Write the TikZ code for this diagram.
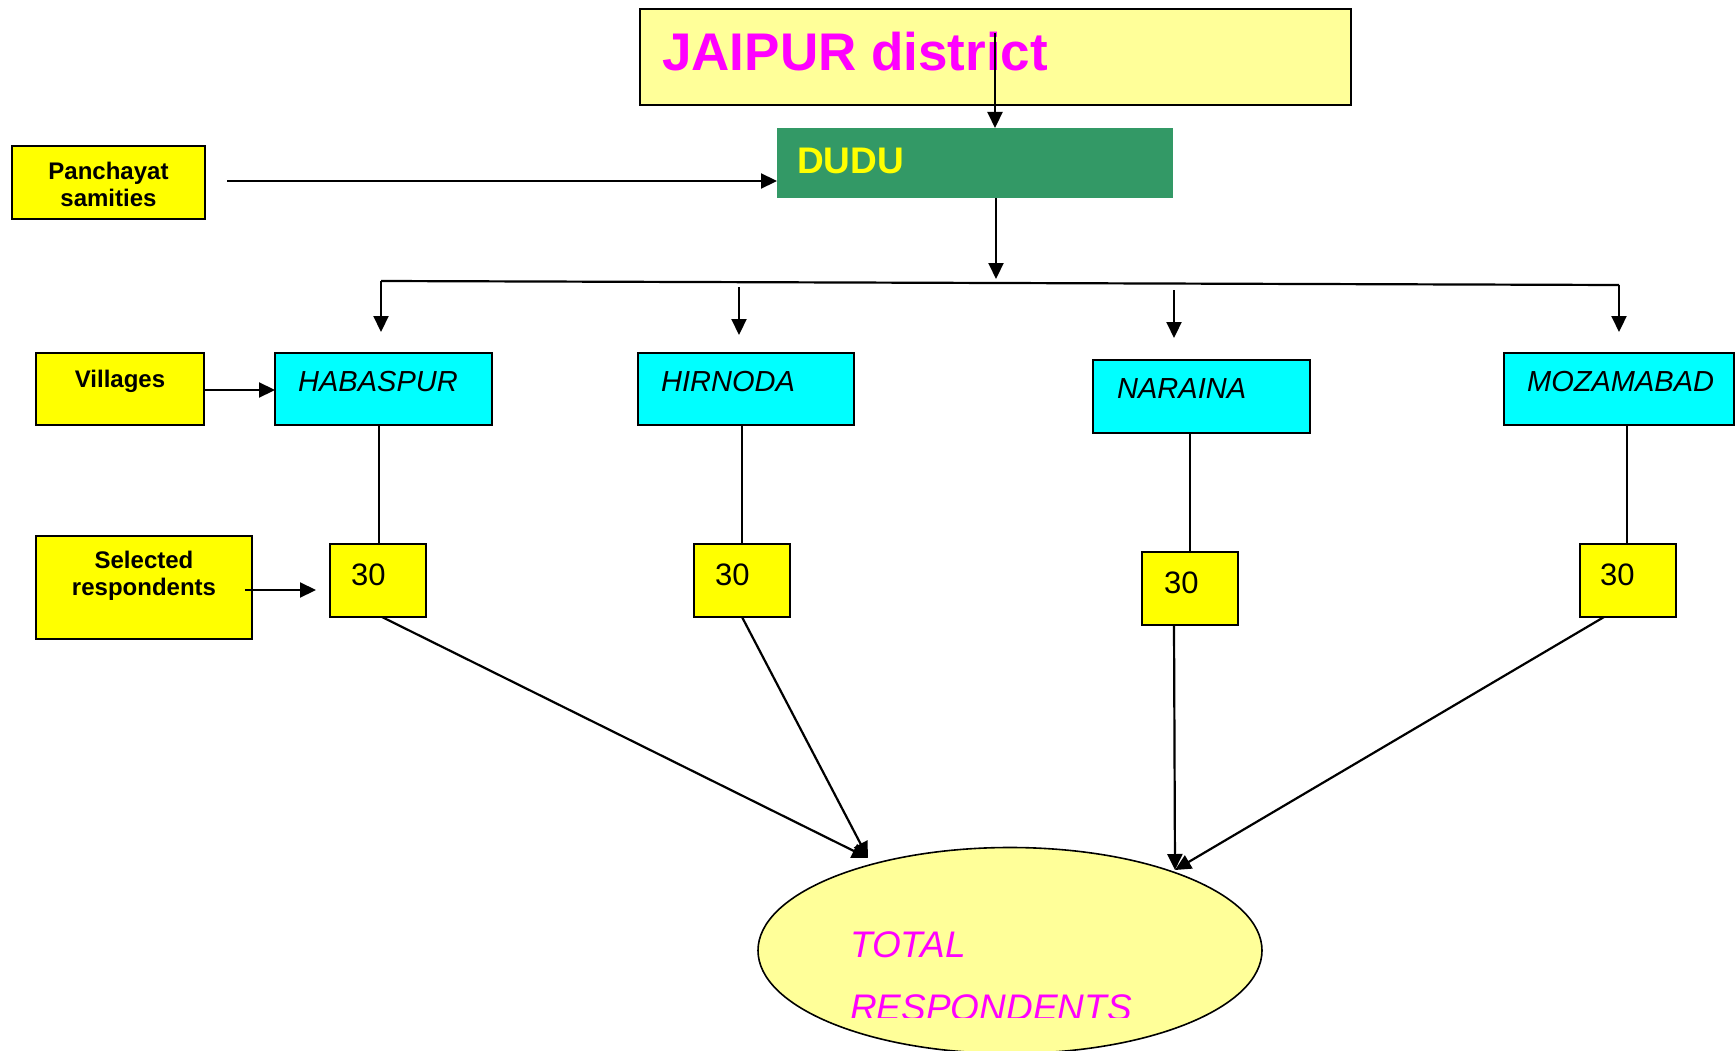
\documentclass[tikz,border=0pt]{standalone}
\usepackage{fontspec}
\setmainfont{Liberation Sans}
\usetikzlibrary{arrows.meta,shapes.geometric}
\definecolor{lightyel}{HTML}{FFFF99}
\definecolor{yel}{HTML}{FFFF00}
\definecolor{dgreen}{HTML}{339966}
\definecolor{cyanb}{HTML}{00FFFF}
\definecolor{mag}{HTML}{FF00FF}
\begin{document}
\begin{tikzpicture}[x=1pt,y=-1pt,
  box/.style={draw=black, line width=1.8pt, inner sep=0pt, outer sep=0pt, anchor=north west},
  ybox/.style={box, fill=yel},
  cbox/.style={box, fill=cyanb},
  lbl/.style={anchor=base west, inner sep=0pt},
  villt/.style={lbl, font=\fontsize{29}{34}\selectfont\itshape},
  numt/.style={lbl, font=\fontsize{31}{36}\selectfont},
  sidet/.style={inner sep=0pt, align=center, font=\fontsize{24}{27}\selectfont\bfseries},
  arr/.style={line width=2.2pt, -{Triangle[length=16pt,width=15pt]}},
  thin/.style={line width=1.5pt}
]
\useasboundingbox (0,0) rectangle (1735,1051);

% top boxes
\node[box, fill=lightyel, minimum width=711, minimum height=96] (jaipur) at (640,9) {};
\node[lbl, text=mag, font=\fontsize{53}{60}\selectfont\bfseries] (jaipurt) at (662,71) {JAIPUR district};
\node[anchor=north west, fill=dgreen, inner sep=0pt, minimum width=396, minimum height=70] (dudu) at (777,128) {};
\node[lbl, text=yel, font=\fontsize{37}{42}\selectfont\bfseries] (dudut) at (797,174) {DUDU};

% side labels
\node[ybox, minimum width=193, minimum height=73] (panch) at (12,146) {};
\node[sidet, anchor=north] (pancht) at (108.5,161.5) {Panchayat\\samities};
\node[ybox, minimum width=168, minimum height=72] (vill) at (36,353) {};
\node[sidet, anchor=base] (villt) at (120,387) {Villages};
\node[ybox, minimum width=216, minimum height=103] (sel) at (36,536) {};
\node[sidet, anchor=north] (selt) at (144,550.5) {Selected\\respondents};

% villages
\node[cbox, minimum width=217, minimum height=72] (hab) at (275,353) {};
\node[villt] (habt) at (298,391) {HABASPUR};
\node[cbox, minimum width=216, minimum height=72] (hir) at (638,353) {};
\node[villt] (hirt) at (661,391) {HIRNODA};
\node[cbox, minimum width=217, minimum height=73] (nar) at (1093,360) {};
\node[villt] (nart) at (1117,398) {NARAINA};
\node[cbox, minimum width=230, minimum height=72] (moz) at (1504,353) {};
\node[villt] (mozt) at (1527,391) {MOZAMABAD};

% 30 boxes
\node[ybox, minimum width=96, minimum height=73] (n1) at (330,544) {};
\node[numt] (n1t) at (351,585) {30};
\node[ybox, minimum width=96, minimum height=73] (n2) at (694,544) {};
\node[numt] (n2t) at (715,585) {30};
\node[ybox, minimum width=96, minimum height=73] (n3) at (1142,552) {};
\node[numt] (n3t) at (1164,593) {30};
\node[ybox, minimum width=96, minimum height=73] (n4) at (1580,544) {};
\node[numt] (n4t) at (1600,585) {30};

% ellipse
\node[ellipse, draw=black, line width=1.6pt, fill=lightyel, minimum width=504, minimum height=206, inner sep=0pt] (total) at (1010,950.5) {};
\begin{scope}
  \clip (700,840) rectangle (1300,1017);
  \node[lbl, text=mag, font=\fontsize{37}{42}\selectfont\itshape] (tot1) at (850,957) {TOTAL};
  \node[lbl, text=mag, font=\fontsize{37}{42}\selectfont\itshape] (tot2) at (850,1020) {RESPONDENTS};
\end{scope}

% coordinates
\coordinate (ja) at (995,33);
\coordinate (pa) at (227,181);
\coordinate (sa) at (245,590);
\coordinate (sb) at (316,590);
\coordinate (dd) at (996,279);
\coordinate (b1) at (381,281);
\coordinate (b4) at (1619,285);
\coordinate (a1e) at (381,332);
\coordinate (a2s) at (739,287);
\coordinate (a2e) at (739,335);
\coordinate (a3s) at (1174,290);
\coordinate (a3e) at (1174,338);
\coordinate (a4e) at (1619,332);
\coordinate (tl) at (868,858);
\coordinate (tr) at (1175,870);

% connectors
\draw[arr] (ja) -- (ja |- dudu.north);
\draw[arr] (pa) -- (pa -| dudu.west);
\draw[arr] (dd |- dudu.south) -- (dd);
\draw[line width=2.2pt] (b1) -- (b4);
\draw[arr] (b1) -- (a1e);
\draw[arr] (a2s) -- (a2e);
\draw[arr] (a3s) -- (a3e);
\draw[arr] (b4) -- (a4e);
\draw[arr] (vill.east |- 0,390) -- (hab.west |- 0,390);
\draw[arr] (sa) -- (sb);

\draw[thin] (hab.south -| 379,0) -- (n1.north -| 379,0);
\draw[thin] (hir.south -| 742,0) -- (n2.north -| 742,0);
\draw[thin] (nar.south -| 1190,0) -- (n3.north -| 1190,0);
\draw[thin] (moz.south -| 1627,0) -- (n4.north -| 1627,0);

\draw[arr] (n1.south -| 382,0) -- (tl);
\draw[arr] (n2.south -| 742,0) -- (tl);
\draw[arr] (n3.south -| 1174,0) -- (tr);
\draw[arr] (n4.south -| 1604,0) -- (tr);
\end{tikzpicture}
\end{document}
